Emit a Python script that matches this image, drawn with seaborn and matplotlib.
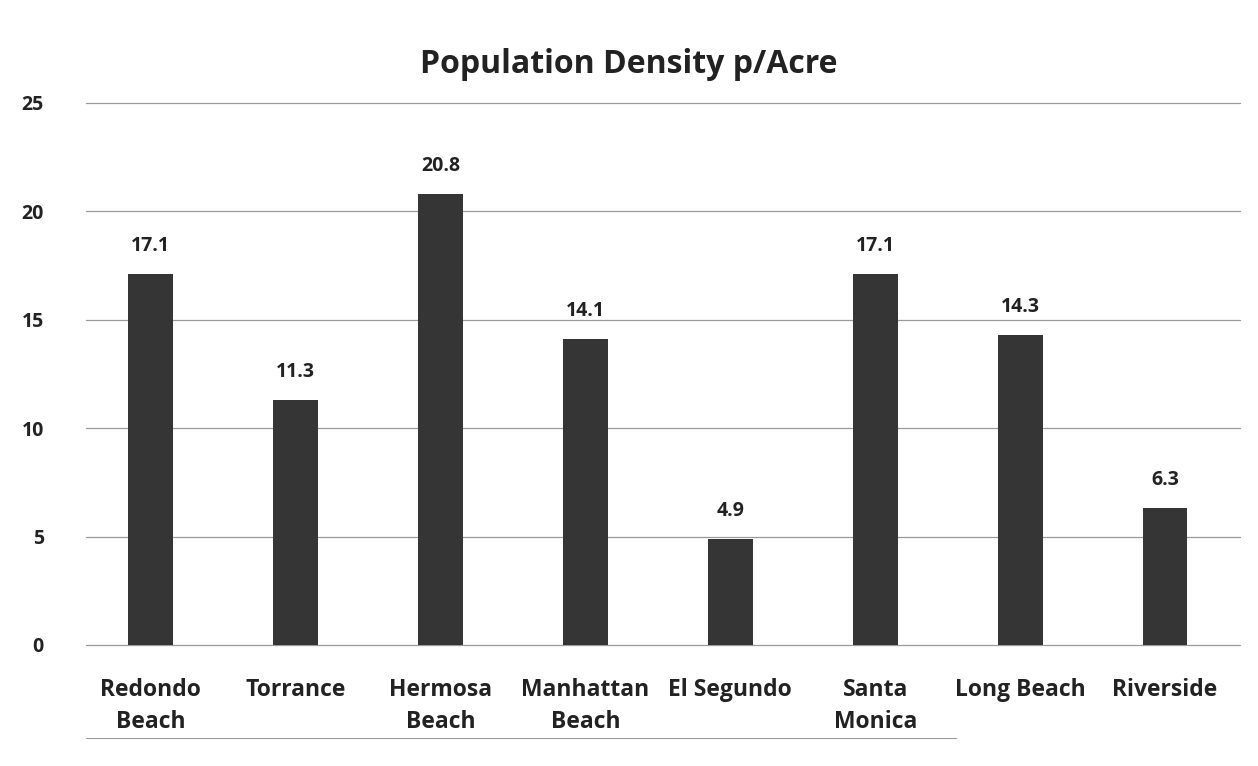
import pandas as pd
import matplotlib.pyplot as plt
import seaborn as sns

# Data
cities = ['Redondo\nBeach', 'Torrance', 'Hermosa\nBeach', 'Manhattan\nBeach',
          'El Segundo', 'Santa\nMonica', 'Long Beach', 'Riverside']
density = [17.1, 11.3, 20.8, 14.1, 4.9, 17.1, 14.3, 6.3]
y_ticks = [0, 5, 10, 15, 20, 25]

df = pd.DataFrame({'City': cities, 'Density': density})

sns.set_theme(style='white')
plt.rcParams['font.family'] = ['Open Sans', 'DejaVu Sans']

fig = plt.figure(figsize=(12.58, 7.66), dpi=100)
ax = fig.add_axes([0.068, 0.158, 0.918, 0.708])

# Gridlines behind the bars
for t in y_ticks:
    ax.axhline(t, color='#9a9a9a', linewidth=0.9, zorder=0, clip_on=False)

sns.barplot(data=df, x='City', y='Density', color='#353535', width=0.31,
            saturation=1, edgecolor='none', linewidth=0, ax=ax, zorder=2)

ax.bar_label(ax.containers[0], labels=[f'{v:.1f}' for v in density],
             padding=13, fontsize=14, fontweight='bold', color='#222222')

ax.set_ylim(0, 25)
ax.set_xlim(-0.45, 7.52)
ax.set_yticks(y_ticks)
ax.set_yticklabels([str(t) for t in y_ticks], fontsize=14, fontweight='bold', color='#222222')
ax.tick_params(axis='y', length=0, pad=30)
ax.tick_params(axis='x', length=0, pad=24)
for lbl in ax.get_xticklabels():
    lbl.set_fontsize(16.5)
    lbl.set_fontweight('bold')
    lbl.set_color('#222222')
    lbl.set_linespacing(1.45)

ax.set_xlabel('')
ax.set_ylabel('')
for s in ax.spines.values():
    s.set_visible(False)

fig.suptitle('Population Density p/Acre', fontsize=23, fontweight='bold',
             color='#222222', y=0.937)

# Chart frame line at the bottom
fig.add_artist(plt.Line2D([0.068, 0.76], [0.036, 0.036], color='#9a9a9a', linewidth=0.8))

fig.savefig('out.png', dpi=100)
